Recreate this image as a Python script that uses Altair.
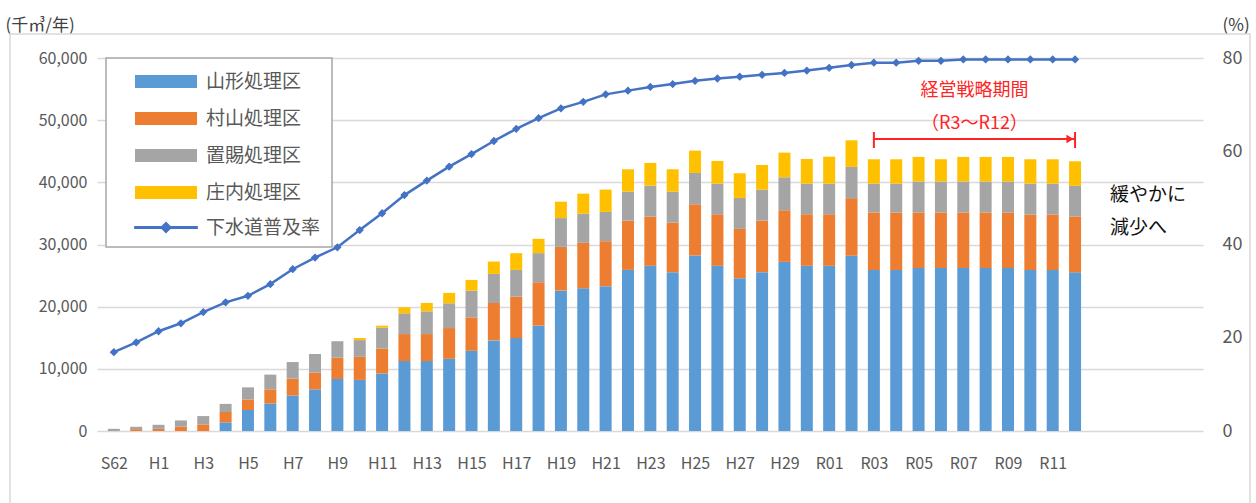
import json

import altair as alt
import pandas as pd

# Fiscal years (Showa / Heisei / Reiwa)
categories = [
    "S62", "S63",
    "H1", "H2", "H3", "H4", "H5", "H6", "H7", "H8", "H9", "H10",
    "H11", "H12", "H13", "H14", "H15", "H16", "H17", "H18", "H19", "H20",
    "H21", "H22", "H23", "H24", "H25", "H26", "H27", "H28", "H29", "H30",
    "R01", "R02", "R03", "R04", "R05", "R06", "R07", "R08", "R09", "R10",
    "R11", "R12",
]

# Treated volume per treatment district (thousand m3 / year)
yamagata = [
    0, 0, 0, 0, 0, 1380, 3380, 4420, 5720, 6700, 8370, 8220,
    9250, 11240, 11240, 11610, 12900, 14570, 14950, 16940, 22580, 22960,
    23300, 25920, 26570, 25550, 28230, 26570, 24580, 25550, 27210, 26570,
    26570, 28190, 25890, 25890, 26220, 26220, 26220, 26220, 26220, 25890,
    25890, 25520,
]
murayama = [
    0, 300, 350, 730, 1060, 1680, 1690, 2280, 2700, 2700, 3420, 3710,
    4030, 4350, 4350, 4950, 5380, 6020, 6660, 6990, 7040, 7310,
    7230, 7930, 7920, 7980, 8240, 8300, 7930, 8300, 8300, 8300,
    8300, 9260, 9260, 9260, 8940, 8940, 8940, 8940, 8940, 8940,
    8940, 8990,
]
okitama = [
    350, 380, 650, 970, 1340, 1300, 1950, 2370, 2670, 2990, 2650, 2690,
    3330, 3340, 3660, 3980, 4300, 4680, 4300, 4680, 4630, 4680,
    4710, 4660, 4980, 4980, 5040, 4930, 4980, 4980, 5300, 4930,
    4930, 5030, 4650, 4650, 4970, 4970, 4970, 4970, 4970, 4970,
    4970, 4920,
]
shonai = [
    0, 0, 0, 0, 0, 0, 0, 0, 0, 0, 0, 330,
    330, 970, 1350, 1670, 1720, 1990, 2690, 2310, 2640, 3230,
    3590, 3590, 3650, 3590, 3590, 3640, 3970, 3960, 3970, 3960,
    4330, 4280, 3910, 3910, 3960, 3590, 3960, 3960, 3960, 3910,
    3910, 3960,
]

# Sewerage coverage rate (%)
sewer_rate = [
    16.9, 19.0, 21.4, 23.1, 25.5, 27.6, 29.0, 31.5, 34.7, 37.2, 39.4, 43.1,
    46.7, 50.6, 53.7, 56.7, 59.4, 62.2, 64.8, 67.1, 69.2, 70.6,
    72.2, 73.0, 73.8, 74.4, 75.1, 75.6, 76.0, 76.4, 76.8, 77.3,
    77.9, 78.5, 79.0, 79.0, 79.4, 79.4, 79.7, 79.7, 79.7, 79.7,
    79.7, 79.7,
]

area_names = ["山形処理区", "村山処理区", "置賜処理区", "庄内処理区"]
area_colors = ["#5B9BD5", "#ED7D31", "#A5A5A5", "#FFC000"]
rate_name = "下水道普及率"
rate_color = "#4472C4"

period_start = "R03"
period_end = "R12"

FONT = "Noto Sans CJK JP"
GREY_TEXT = "#595959"
RED = "#FF2424"

# ---- tables -------------------------------------------------------------
rows = []
for i, year in enumerate(categories):
    for k, (name, series) in enumerate(
        zip(area_names, [yamagata, murayama, okitama, shonai])
    ):
        rows.append({"idx": i + 1, "year": year, "area": name,
                     "order": k, "volume": series[i]})
bars_df = pd.DataFrame(rows)

rate_df = pd.DataFrame({
    "idx": list(range(1, len(categories) + 1)),
    "year": categories,
    "series": rate_name,
    "rate": sewer_rate,
})

p0 = categories.index(period_start) + 1
p1 = categories.index(period_end) + 1
period_df = pd.DataFrame({"start": [p0], "end": [p1],
                          "mid": [(p0 + p1) / 2],
                          "label": ["経営戦略期間\n（R3～R12）"]})
caps_df = pd.DataFrame({"idx": [p0, p1]})
one_df = pd.DataFrame({"k": [0]})

# ---- scales / axes ------------------------------------------------------
x_scale = alt.Scale(domain=[0.47, 49.5], nice=False, zero=False)
x_axis = alt.Axis(
    values=list(range(1, len(categories) + 1, 2)),
    labelExpr=f"{json.dumps(categories)}[datum.value - 1]",
    title=None, grid=False, ticks=False, domain=False,
    labelPadding=24, labelFontSize=16, labelColor=GREY_TEXT, labelFont=FONT,
)

# ---- layers -------------------------------------------------------------
frame = alt.Chart(one_df).mark_rect(
    fill="transparent", stroke="#D9D9D9", strokeWidth=1.5
).encode(
    x=alt.value(-87), x2=alt.value(1153),
    y=alt.value(-24), y2=alt.value(470),
)

legend_box = alt.Chart(one_df).mark_rect(
    fill="white", stroke="#A6A6A6", strokeWidth=1.5
).encode(
    x=alt.value(9), x2=alt.value(235),
    y=alt.value(0), y2=alt.value(189),
)

bars = alt.Chart(bars_df).mark_bar(size=12).encode(
    x=alt.X("idx:Q", scale=x_scale, axis=x_axis),
    y=alt.Y(
        "volume:Q", stack="zero",
        scale=alt.Scale(domain=[0, 60000], nice=False),
        axis=alt.Axis(
            values=[0, 10000, 20000, 30000, 40000, 50000, 60000],
            format=",d", title="(千㎥/年)", titleAngle=0,
            titleX=-92, titleY=-33, titleAlign="left",
            titleBaseline="middle", titleFontSize=17, titleFont=FONT,
            titleFontWeight="normal", titleColor="#404040",
            grid=True, gridColor="#D9D9D9", gridWidth=1.5,
            ticks=False, domain=False, labelPadding=10,
            labelFontSize=16, labelColor=GREY_TEXT, labelFont=FONT,
        ),
    ),
    color=alt.Color(
        "area:N",
        scale=alt.Scale(domain=area_names, range=area_colors),
        legend=alt.Legend(
            title=None, orient="none", legendX=59.5, legendY=14,
            symbolType="M-4.77,-1L4.77,-1L4.77,1L-4.77,1Z",
            symbolSize=169, symbolStrokeWidth=0,
            labelFont=FONT, labelFontSize=19, labelColor=GREY_TEXT,
            labelOffset=30.5, rowPadding=17, padding=0, zindex=1,
        ),
    ),
    order=alt.Order("order:Q", sort="ascending"),
)

line = alt.Chart(rate_df).mark_line(
    strokeWidth=2.5,
    point=alt.OverlayMarkDef(shape="diamond", size=30, filled=True,
                             color=rate_color),
).encode(
    x=alt.X("idx:Q", scale=x_scale, axis=x_axis),
    y=alt.Y(
        "rate:Q",
        scale=alt.Scale(domain=[0, 80], nice=False),
        axis=alt.Axis(
            orient="right", values=[0, 20, 40, 60, 80],
            title="(%)", titleAngle=0, titleX=19, titleY=-33,
            titleAlign="left", titleBaseline="middle", titleFontSize=17,
            titleFont=FONT, titleFontWeight="normal", titleColor="#404040",
            grid=False, ticks=False, domain=False, labelPadding=19,
            labelFontSize=18, labelColor=GREY_TEXT, labelFont=FONT,
        ),
    ),
    stroke=alt.Stroke(
        "series:N",
        scale=alt.Scale(domain=[rate_name], range=[rate_color]),
        legend=alt.Legend(
            title=None, orient="none", legendX=59.5, legendY=160,
            symbolType="M-4.9,0L4.9,0M-0.6,0L0,-0.6L0.6,0L0,0.6Z",
            symbolSize=169, symbolStrokeWidth=3,
            symbolFillColor=rate_color,
            labelFont=FONT, labelFontSize=19, labelColor=GREY_TEXT,
            labelOffset=30.5, padding=0, zindex=1,
        ),
    ),
)

# Management strategy period bracket
bracket = alt.Chart(period_df).mark_rule(color=RED, strokeWidth=2).encode(
    x=alt.X("start:Q", scale=x_scale), x2="end:Q", y=alt.value(81),
)
caps = alt.Chart(caps_df).mark_rule(color=RED, strokeWidth=2).encode(
    x=alt.X("idx:Q", scale=x_scale), y=alt.value(74), y2=alt.value(90),
)
arrow = alt.Chart(period_df).mark_point(
    shape="triangle-right", filled=True, color=RED, size=70, opacity=1,
    xOffset=-5,
).encode(x=alt.X("end:Q", scale=x_scale), y=alt.value(81))
period_text = alt.Chart(period_df).mark_text(
    font=FONT, fontSize=18, color=RED, lineBreak="\n", lineHeight=33,
    baseline="top", align="center",
).encode(x=alt.X("mid:Q", scale=x_scale), y=alt.value(24), text="label:N")

note = alt.Chart(one_df).mark_text(
    text="緩やかに\n減少へ", font=FONT, fontSize=19, color="#111111",
    lineBreak="\n", lineHeight=33, baseline="top", align="left",
).encode(x=alt.value(1013), y=alt.value(128))

chart = alt.layer(
    frame, legend_box, bars, line, bracket, caps, arrow, period_text, note
).resolve_scale(
    y="independent"
).properties(
    width=1106, height=373,
    autosize=alt.AutoSizeParams(type="none"),
    padding={"left": 97, "top": 58, "right": 53, "bottom": 72},
    background="white",
).configure_view(stroke=None)

chart.save("out.html", embed_options={"renderer": "svg", "actions": False})
